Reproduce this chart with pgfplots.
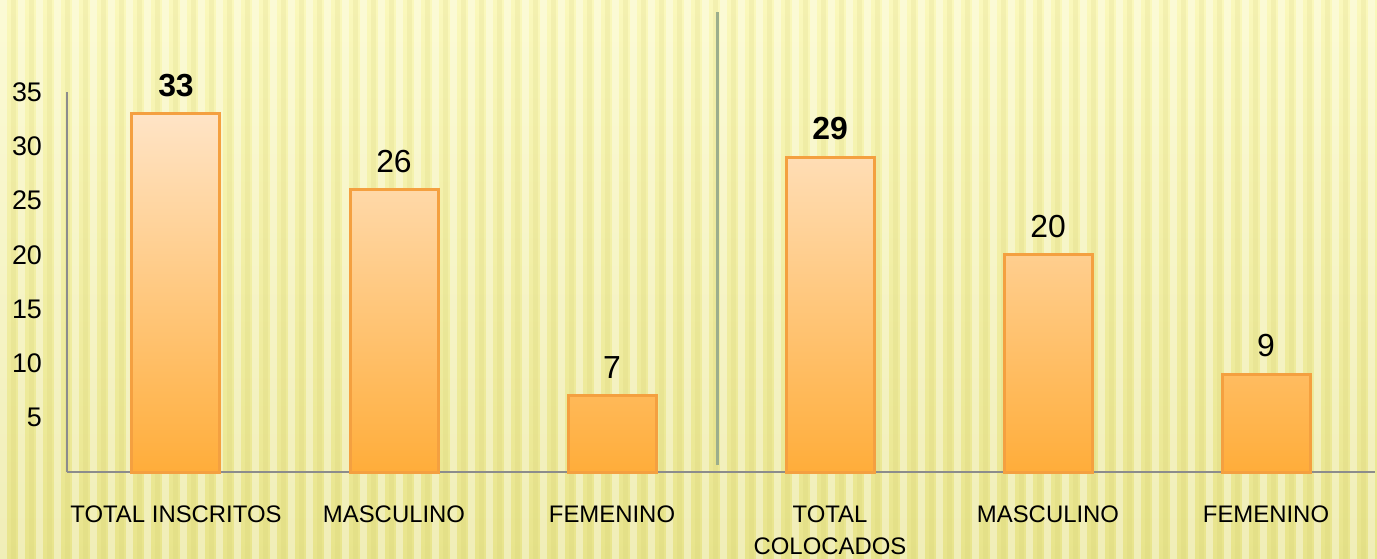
\documentclass[border=0pt]{standalone}
\usepackage{pgfplots}
\pgfplotsset{compat=1.18}
\usepackage{fontspec}
\setmainfont{Liberation Sans}
\definecolor{bgtop}{HTML}{FAF8BC}
\definecolor{bgbot}{HTML}{E8E48C}
\definecolor{stripedark}{HTML}{C8C060}
\definecolor{bartop}{HTML}{FFE4C6}
\definecolor{barbot}{HTML}{FFAD3A}
\definecolor{barline}{HTML}{F4A040}
\definecolor{sepc}{HTML}{9CAE8C}
\definecolor{axc}{HTML}{8C8C8C}
\begin{document}
\begin{tikzpicture}
\useasboundingbox (-33.5bp,-43.5bp) rectangle (655bp,236bp);
\shade[top color=bgtop, bottom color=bgbot] (-33.5bp,-43.5bp) rectangle (655bp,236bp);
\begin{scope}[x=1bp,y=1bp]
\foreach \i in {0,...,77} {
  \pgfmathsetmacro{\xa}{-33.5+\i*9}
  \pgfmathsetmacro{\xb}{-33.5+\i*9+5.5}
  \fill[white, opacity=0.38] (\xa,-43.5) rectangle ++(3.5,279.5);
  \fill[stripedark, opacity=0.13] (\xb,-43.5) rectangle ++(2.5,279.5);
}
\end{scope}
\begin{axis}[
  at={(0,0)}, anchor=south west,
  scale only axis, width=654bp, height=190bp,
  ybar, bar width=44bp,
  xmin=-0.5, xmax=5.5, ymin=0, ymax=35,
  axis x line*=bottom, axis y line*=left,
  axis line style={axc, line width=1bp, -},
  major tick length=0pt,
  xtick={0,1,2,3,4,5},
  xticklabels={TOTAL INSCRITOS, MASCULINO, FEMENINO, {TOTAL\\COLOCADOS}, MASCULINO, FEMENINO},
  xticklabel style={align=center, font=\fontsize{12}{16}\selectfont, yshift=-13.5bp},
  ytick={5,10,15,20,25,30,35},
  yticklabel style={font=\fontsize{13.5}{15}\selectfont, xshift=-9bp},
  /pgf/number format/assume math mode=true,
  clip=false,
  point meta=explicit symbolic,
  nodes near coords,
  every node near coord/.append style={font=\fontsize{16}{18}\selectfont, yshift=4.5bp},
]
\addplot[draw=barline, line width=1.5bp, top color=bartop, bottom color=barbot, shading=axis]
  coordinates {(0,33) [\textbf{33}] (1,26) [26] (2,7) [7] (3,29) [\textbf{29}] (4,20) [20] (5,9) [9]};
\draw[sepc, line width=1.5bp] (axis cs:2.486,0.64) -- (axis cs:2.486,42.4);
\end{axis}
\end{tikzpicture}
\end{document}
